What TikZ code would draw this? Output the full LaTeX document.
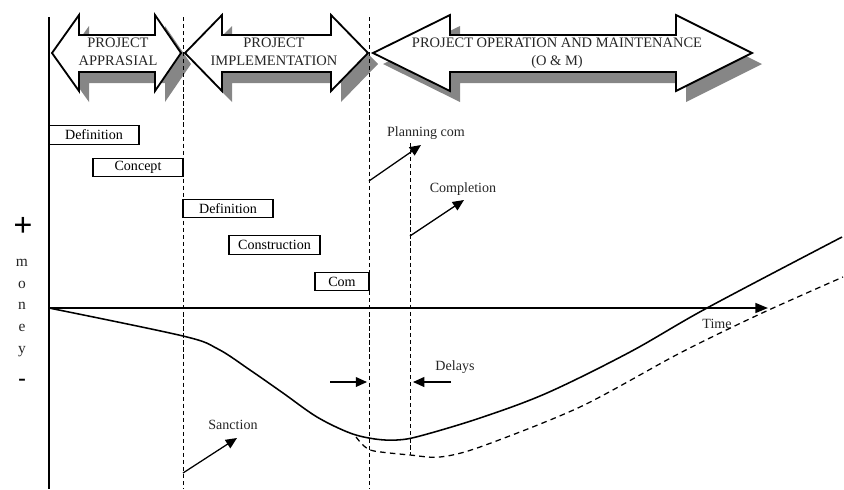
\documentclass[tikz,border=0pt]{standalone}
\usepackage{fontspec}
\setmainfont{Liberation Serif}
\usetikzlibrary{arrows.meta}

\tikzset{
  phase/.style={draw=black, line width=1.3pt, fill=white, line join=miter},
  phaseshadow/.style={fill=gray!95},
  stagebox/.style={draw, line width=0.8pt, minimum height=0.46cm, inner sep=0pt, font=\fontsize{10}{12}\selectfont},
  guide/.style={dash pattern=on 3pt off 2pt, line width=0.7pt},
  pointer/.style={-{Triangle[length=8pt,width=7pt]}, line width=0.9pt},
  lbl/.style={font=\fontsize{10}{12}\selectfont, text=black!85}
}

\begin{document}
\begin{tikzpicture}[x=0.025cm, y=-0.025cm]
\useasboundingbox (0,0) rectangle (844,489);

% Phase arrows with shadow
\foreach \a/\b/\c/\d in {52/79/155/181, 185/222/331/368, 373/450/676/752} {
  \fill[phaseshadow, shift={(10,11)}] (\a,53) -- (\b,15) -- (\b,35) -- (\c,35) -- (\c,15) -- (\d,53) -- (\c,91) -- (\c,72) -- (\b,72) -- (\b,91) -- cycle;
  \draw[phase] (\a,53) -- (\b,15) -- (\b,35) -- (\c,35) -- (\c,15) -- (\d,53) -- (\c,91) -- (\c,72) -- (\b,72) -- (\b,91) -- cycle;
}
\node[lbl, align=center, font=\fontsize{10.3}{12.5}\selectfont] (appraisal) at (118,52) {PROJECT\\APPRASIAL};
\node[lbl, align=center, font=\fontsize{10.3}{12.5}\selectfont] (implement) at (274,52) {PROJECT\\IMPLEMENTATION};
\node[lbl, align=center, font=\fontsize{10.3}{12.5}\selectfont] (operation) at (557,53) {PROJECT OPERATION AND MAINTENANCE\\(O \& M)};

% Axes
\coordinate (origin) at (49,308);
\coordinate (ytop) at (49,17);
\coordinate (ybot) at (49,489);
\coordinate (tend) at (768,308);
\draw[line width=1.4pt] (ytop) -- (ybot);
\draw[line width=1.4pt, -{Triangle[length=9pt,width=7pt]}] (origin) -- (tend);
\node[lbl] (time) at (717,324) {Time};

% Phase boundaries
\draw[guide] (183,17) -- (183,489);
\draw[guide] (369,17) -- (369,489);
\draw[guide] (410,143) -- (410,455);

% Stages
\node[stagebox, minimum width=2.25cm] (def1) at (94,135) {Definition};
\node[stagebox, minimum width=2.25cm] (concept) at (138,167.5) {Concept};
\node[stagebox, minimum width=2.25cm] (def2) at (228,208.5) {Definition};
\node[stagebox, minimum width=2.275cm] (constr) at (274.5,245) {Construction};
\node[stagebox, minimum width=1.35cm] (com) at (342,281.5) {Com};

% Money label
\node[font=\fontsize{24}{24}\selectfont\bfseries] (plus) at (23,227) {+};
\node[lbl, align=center, font=\fontsize{11}{15.5}\selectfont] (money) at (22,308) {m\\o\\n\\e\\y};
\node[font=\fontsize{16}{16}\selectfont\bfseries] (minus) at (22,382) {-};

% Milestones
\node[lbl] (plancom) at (426,133) {Planning com};
\coordinate (pcfrom) at (369,181);
\coordinate (pcto) at (421,145);
\draw[pointer] (pcfrom) -- (pcto);

\node[lbl] (completion) at (463,189) {Completion};
\coordinate (cfrom) at (410,236);
\coordinate (cto) at (464,200);
\draw[pointer] (cfrom) -- (cto);

\node[lbl] (sanction) at (233,425) {Sanction};
\coordinate (sfrom) at (183,473);
\coordinate (sto) at (237,438);
\draw[pointer] (sfrom) -- (sto);

\node[lbl] (delays) at (455,367) {Delays};
\coordinate (d1from) at (330,382);
\coordinate (d1to) at (367,382);
\coordinate (d2from) at (451,382);
\coordinate (d2to) at (413,382);
\draw[pointer] (d1from) -- (d1to);
\draw[pointer] (d2from) -- (d2to);

% Cash flow curves
\draw[line width=1.1pt] plot[smooth, tension=0.55] coordinates {(49,308) (183,336) (218,349) (250,370) (283,393) (317,417) (350,433) (375,439) (397,440) (420,436) (480,418) (547,393) (630,352) (707,308) (842,237)};
\draw[line width=0.9pt, dash pattern=on 4pt off 3pt] plot[smooth, tension=0.5] coordinates {(356,437) (364,446) (374,451) (410,455) (440,457) (480,447) (580,407) (680,353) (760,314) (843,277)};

\end{tikzpicture}
\end{document}
